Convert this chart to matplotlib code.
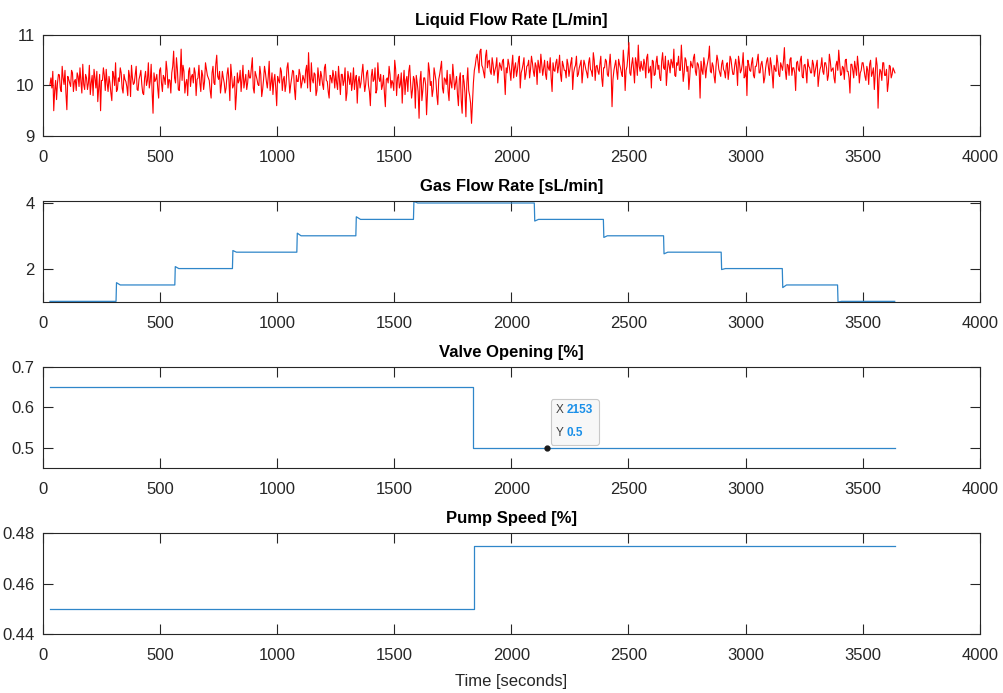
"""
four stacked process signals from a two-phase flow loop run
"""
import numpy as np
import matplotlib
matplotlib.use("Agg")
from matplotlib import pyplot as plt
from matplotlib.offsetbox import TextArea, HPacker, VPacker, AnnotationBbox

plt.rcParams['font.family'] = ['Liberation Sans Narrow', 'Liberation Sans', 'DejaVu Sans']

# liquid flow rate, read every 8 s (before and after the valve/pump change)
liquid_a = [
    10.02, 9.95, 9.50, 10.10, 10.05, 10.21, 9.88, 10.15, 10.30, 9.52, 10.12, 9.98, 10.25, 10.08, 9.90,
    10.18, 10.35, 9.85, 10.02, 10.22, 9.92, 10.40, 10.05, 9.80, 10.15, 10.28, 9.95, 9.50, 10.10, 10.20,
    10.32, 9.88, 10.05, 9.70, 10.18, 10.45, 9.92, 10.08, 10.25, 9.85, 10.12, 9.98, 10.30, 9.78, 10.15,
    10.05, 10.38, 9.90, 10.20, 10.02, 9.82, 10.28, 10.10, 9.95, 10.42, 9.45, 10.08, 10.22, 9.75, 10.35,
    9.88, 10.15, 10.48, 9.95, 10.10, 10.25, 10.68, 10.05, 10.32, 9.90, 10.72, 10.40, 9.85, 10.12, 10.28,
    9.98, 10.22, 10.35, 9.80, 10.15, 10.05, 10.30, 9.92, 10.45, 10.20, 10.10, 9.75, 10.38, 10.02, 10.60,
    10.12, 9.85, 10.28, 10.05, 9.95, 10.35, 9.70, 10.18, 10.00, 9.52, 10.25, 10.10, 9.88, 10.40, 10.08,
    9.92, 10.30, 10.15, 10.55, 9.85, 10.20, 10.02, 10.38, 9.78, 10.12, 10.25, 9.95, 10.48, 10.05, 9.82,
    10.22, 9.60, 10.10, 10.35, 9.90, 10.18, 10.02, 10.45, 9.85, 10.15, 10.28, 9.72, 10.08, 10.32, 9.95,
    10.20, 10.05, 10.40, 10.65, 9.88, 10.12, 10.25, 9.80, 10.35, 10.00, 10.18, 9.92, 10.42, 10.08, 9.75,
    10.15, 10.30, 9.95, 10.05, 10.38, 9.82, 10.22, 10.10, 9.70, 10.28, 10.02, 9.90, 10.35, 10.12, 9.65,
    10.18, 10.05, 10.42, 9.88, 10.25, 10.00, 9.60, 10.32, 10.12, 9.85, 10.45, 10.08, 9.92, 10.20, 9.58,
    10.15, 10.38, 9.95, 10.05, 10.50, 9.80, 10.22, 10.02, 9.65, 10.30, 10.10, 9.88, 10.40, 9.75, 10.18,
    9.55, 10.05, 9.35, 10.28, 9.90, 10.15, 9.42, 10.45, 10.00, 9.78, 10.35, 10.10, 9.62, 10.22, 10.48,
    9.85, 10.12, 10.30, 9.70, 10.05, 10.42, 9.92, 10.18, 9.60, 10.25, 9.45, 10.08, 9.38, 10.35, 9.80,
    9.25,
]
# same run, samples in between (t = 34, 42, ...)
liquid_a2 = [
    10.15, 10.28, 9.90, 9.72, 10.22, 9.95, 10.38, 10.02, 9.85, 10.18, 10.05, 10.30, 9.88, 10.12, 10.25,
    9.98, 10.08, 10.42, 9.92, 10.15, 10.05, 9.82, 10.20, 10.32, 9.95, 9.68, 10.22, 10.10, 10.35, 9.90,
    10.05, 10.18, 9.85, 10.28, 10.00, 9.88, 10.15, 10.35, 9.95, 10.22, 10.08, 9.80, 10.18, 10.40, 10.02,
    10.22, 9.92, 10.12, 10.30, 9.85, 10.15, 10.00, 10.45, 10.08, 9.88, 10.25, 10.12, 9.95, 10.30, 10.05,
    10.20, 10.02, 10.30, 10.12, 9.85, 10.38, 10.15, 10.55, 9.92, 10.22, 10.10, 10.28, 10.05, 9.80, 10.35,
    10.18, 10.05, 10.25, 10.12, 10.40, 9.88, 10.20, 10.08, 10.32, 10.15, 9.90, 10.25, 10.05, 10.42, 10.18,
    10.28, 10.02, 10.15, 9.85, 10.22, 10.10, 10.42, 9.95, 10.18, 9.82, 10.05, 10.30, 10.12, 9.95, 10.22,
    10.05, 10.15, 10.35, 9.95, 10.28, 10.12, 10.00, 10.22, 9.92, 10.38, 10.08, 10.18, 9.90, 10.25, 10.10,
    9.95, 10.18, 10.05, 10.28, 10.12, 9.88, 10.35, 10.15, 10.02, 10.30, 9.92, 10.20, 10.08, 10.22, 10.05,
    10.12, 10.30, 9.95, 10.18, 10.45, 10.05, 10.22, 9.90, 10.15, 10.28, 10.02, 10.35, 10.10, 9.88, 10.20,
    10.05, 10.18, 10.28, 9.92, 10.12, 10.22, 10.00, 10.35, 9.85, 10.15, 10.25, 10.05, 9.92, 10.20, 10.08,
    9.95, 10.25, 10.12, 10.02, 10.30, 9.88, 10.18, 10.08, 10.35, 9.92, 10.15, 10.22, 10.00, 9.85, 10.12,
    10.05, 10.22, 10.10, 9.90, 10.32, 10.15, 9.95, 10.25, 10.05, 9.82, 10.18, 10.28, 10.02, 9.92, 10.12,
    10.20, 9.88, 10.10, 9.70, 10.15, 10.02, 9.85, 10.30, 10.08, 9.92, 10.22, 9.80, 10.12, 10.35, 9.95,
    10.15, 10.02, 9.88, 10.22, 9.95, 10.18, 10.05, 9.82, 10.12, 9.70, 10.20, 9.85, 10.05, 9.90, 9.65,
]
liquid_b = [
    10.05, 10.40, 10.62, 10.25, 10.72, 10.35, 10.15, 10.70, 10.48, 10.28, 10.55, 10.20, 10.38, 10.05, 10.45,
    10.30, 10.52, 9.82, 10.25, 10.42, 10.10, 10.60, 10.35, 10.18, 10.48, 9.95, 10.32, 10.55, 10.22, 10.40,
    10.15, 10.58, 10.28, 10.45, 10.02, 10.38, 10.62, 10.20, 10.50, 10.12, 10.35, 10.55, 9.88, 10.30, 10.45,
    10.25, 10.60, 10.08, 10.40, 10.30, 10.52, 10.18, 10.45, 9.92, 10.35, 10.58, 10.22, 10.42, 10.05, 10.50,
    10.32, 10.15, 10.55, 10.28, 10.65, 10.10, 10.40, 10.22, 10.58, 9.98, 10.35, 10.48, 10.18, 10.62, 9.58,
    10.30, 10.50, 10.12, 10.42, 10.25, 10.70, 9.90, 10.38, 10.85, 10.20, 10.55, 10.05, 10.45, 10.80, 10.28,
    10.35, 10.52, 10.15, 10.62, 10.30, 9.95, 10.48, 10.22, 10.58, 10.40, 10.10, 10.65, 10.32, 10.00, 10.50,
    10.25, 10.45, 10.72, 10.18, 10.40, 10.30, 10.80, 10.08, 10.55, 10.28, 9.92, 10.48, 10.35, 10.62, 10.20,
    10.42, 9.75, 10.30, 10.55, 10.15, 10.45, 10.78, 10.25, 10.38, 10.05, 10.60, 10.32, 10.18, 10.50, 10.28,
    10.40, 10.12, 10.58, 10.35, 10.22, 10.52, 10.00, 10.45, 10.30, 10.65, 10.18, 9.80, 10.42, 10.28, 10.55,
    10.15, 10.38, 10.62, 10.25, 10.48, 10.05, 10.35, 10.55, 10.20, 10.42, 9.95, 10.32, 10.60, 10.22, 10.45,
    10.30, 10.75, 10.12, 10.40, 10.52, 10.20, 10.35, 9.90, 10.48, 10.28, 10.58, 10.15, 10.42, 10.05, 10.38,
    10.25, 10.50, 10.18, 10.40, 9.98, 10.32, 10.55, 10.22, 10.45, 10.10, 10.62, 10.28, 10.35, 10.05, 10.48,
    10.70, 10.20, 10.38, 10.12, 10.52, 10.28, 9.85, 10.42, 10.15, 10.35, 10.58, 10.05, 10.30, 10.45, 10.18,
    10.38, 10.02, 10.50, 10.25, 9.92, 10.55, 9.55, 10.32, 10.10, 10.45, 10.20, 9.88, 10.40, 10.15, 10.35,
    10.25,
]
liquid_b2 = [
    10.30, 10.55, 10.45, 10.68, 10.40, 10.25, 10.58, 10.35, 10.50, 10.22, 10.42, 10.30, 10.55, 10.28, 10.38,
    10.48, 10.20, 10.35, 10.52, 10.28, 10.40, 10.15, 10.45, 10.30, 10.58, 10.25, 10.42, 10.12, 10.38, 10.50,
    10.32, 10.45, 10.18, 10.38, 10.50, 10.25, 10.42, 10.35, 10.22, 10.48, 10.30, 10.15, 10.45, 10.28, 10.52,
    10.38, 10.22, 10.48, 10.30, 10.15, 10.42, 10.32, 10.55, 10.25, 10.40, 10.18, 10.35, 10.50, 10.28, 10.42,
    10.25, 10.45, 10.32, 10.18, 10.50, 10.38, 10.28, 10.42, 10.15, 10.35, 10.52, 10.22, 10.40, 10.30, 10.12,
    10.40, 10.28, 10.52, 10.35, 10.18, 10.45, 10.30, 10.60, 10.25, 10.42, 10.32, 10.55, 10.20, 10.38, 10.48,
    10.30, 10.42, 10.55, 10.25, 10.38, 10.50, 10.20, 10.45, 10.32, 10.15, 10.48, 10.35, 10.58, 10.28, 10.40,
    10.52, 10.35, 10.20, 10.45, 10.58, 10.30, 10.42, 10.25, 10.50, 10.38, 10.18, 10.40, 10.55, 10.28, 10.45,
    10.30, 10.48, 10.22, 10.40, 10.35, 10.55, 10.28, 10.45, 10.18, 10.38, 10.50, 10.25, 10.42, 10.32, 10.15,
    10.45, 10.30, 10.52, 10.22, 10.40, 10.35, 10.58, 10.25, 10.42, 10.15, 10.38, 10.50, 10.30, 10.45, 10.20,
    10.38, 10.50, 10.25, 10.42, 10.32, 10.15, 10.48, 10.35, 10.55, 10.22, 10.40, 10.28, 10.45, 10.18, 10.38,
    10.48, 10.30, 10.42, 10.20, 10.55, 10.35, 10.25, 10.45, 10.32, 10.50, 10.18, 10.40, 10.28, 10.52, 10.35,
    10.25, 10.42, 10.30, 10.50, 10.18, 10.38, 10.28, 10.45, 10.35, 10.20, 10.48, 10.32, 10.15, 10.40, 10.30,
    10.45, 10.22, 10.35, 10.50, 10.28, 10.15, 10.42, 10.30, 10.48, 10.20, 10.38, 10.25, 10.45, 10.32, 10.10,
    10.30, 10.42, 10.18, 10.35, 10.25, 10.40, 10.12, 10.28, 10.45, 10.20, 10.32, 10.05, 10.38, 10.22, 10.30,
]

# gas flow rate set-point steps (with the small over/undershoot at each change)
gas_t = [30, 312, 314, 330, 563, 565, 580, 809, 811, 826, 1084, 1086, 1102,
         1336, 1338, 1356, 1582, 1584, 1600, 2098, 2100, 2116, 2393, 2395, 2410,
         2650, 2652, 2668, 2896, 2898, 2914, 3157, 3159, 3175, 3393, 3395, 3410, 3637]
gas_v = [1.0, 1.0, 1.57, 1.5, 1.5, 2.06, 2.0, 2.0, 2.55, 2.5, 2.5, 3.08, 3.0,
         3.0, 3.58, 3.5, 3.5, 4.05, 4.0, 4.0, 3.45, 3.5, 3.5, 2.95, 3.0,
         3.0, 2.45, 2.5, 2.5, 1.97, 2.0, 2.0, 1.42, 1.5, 1.5, 0.98, 1.0, 1.0]

valve_t = [30, 1836, 3637]
valve_v = [0.65, 0.5, 0.5]

pump_t = [30, 1840, 3637]
pump_v = [0.45, 0.475, 0.475]

tip_x, tip_y = 2153, 0.5

# merge the two interleaved liquid series into one time-ordered trace
liq_t = np.concatenate([np.arange(30, 1831, 8), np.arange(34, 1827, 8),
                        np.arange(1838, 3639, 8), np.arange(1842, 3635, 8)])
liq_v = np.array(liquid_a + liquid_a2 + liquid_b + liquid_b2)
order = np.argsort(liq_t)
liq_t, liq_v = liq_t[order], liq_v[order]

blue = '#2f86c9'
dark = '#262626'

fig = plt.figure(figsize=(10.04, 6.93), dpi=100)
left, width, height = 0.0428, 0.933, 0.1457
bottoms = [0.8038, 0.5642, 0.3247, 0.0851]

titles = ['Liquid Flow Rate [L/min]', 'Gas Flow Rate [sL/min]',
          'Valve Opening [%]', 'Pump Speed [%]']

axes = [fig.add_axes([left, b, width, height]) for b in bottoms]

axes[0].plot(liq_t, liq_v, color='red', lw=0.8)
axes[0].set_ylim(9, 11)
axes[0].set_yticks([9, 10, 11])

axes[1].plot(gas_t, gas_v, color=blue, lw=0.9)
axes[1].set_ylim(0.98, 4.06)
axes[1].set_yticks([2, 4])

axes[2].plot(valve_t, valve_v, color=blue, lw=0.9, drawstyle='steps-post')
axes[2].set_ylim(0.45, 0.7)
axes[2].set_yticks([0.5, 0.6, 0.7])

axes[3].plot(pump_t, pump_v, color=blue, lw=0.9, drawstyle='steps-post')
axes[3].set_ylim(0.44, 0.48)
axes[3].set_yticks([0.44, 0.46, 0.48])
axes[3].set_xlabel('Time [seconds]', fontsize=12, color=dark, labelpad=8)

for ax, title in zip(axes, titles):
    ax.set_xlim(0, 4000)
    ax.set_xticks(range(0, 4001, 500))
    ax.set_title(title, fontsize=12, fontweight='bold', color='black', pad=7)
    ax.tick_params(direction='in', top=True, right=True, length=7, width=0.8,
                   colors=dark, labelsize=12)
    ax.tick_params(axis='x', pad=10)
    ax.tick_params(axis='y', pad=6)
    for sp in ax.spines.values():
        sp.set_color(dark)
        sp.set_linewidth(0.8)

# data tip on the valve opening
ax3 = axes[2]
ax3.plot([tip_x], [tip_y], 'o', color='#1a1a1a', ms=3.5, zorder=5)
lab = dict(color='#404040', size=8.5)
num = dict(color='#1a8fe8', size=8.5, weight='bold')
rows = [HPacker(children=[TextArea('X', textprops=lab), TextArea(str(tip_x), textprops=num)],
                sep=2, pad=0, align='baseline'),
        HPacker(children=[TextArea('Y', textprops=lab), TextArea(str(tip_y), textprops=num)],
                sep=2, pad=0, align='baseline')]
tip_box = VPacker(children=rows, sep=8, pad=0, align='left')
ab = AnnotationBbox(tip_box, (tip_x, tip_y), xybox=(6.5, 6), xycoords='data',
                    boxcoords='offset points', box_alignment=(0, 0), frameon=True, pad=0.4,
                    bboxprops=dict(boxstyle='round,pad=0.4,rounding_size=0.2',
                                   fc='#f7f7f7', ec='#c8c8c8', lw=0.8))
ax3.add_artist(ab)

fig.savefig('out.png', dpi=100)
